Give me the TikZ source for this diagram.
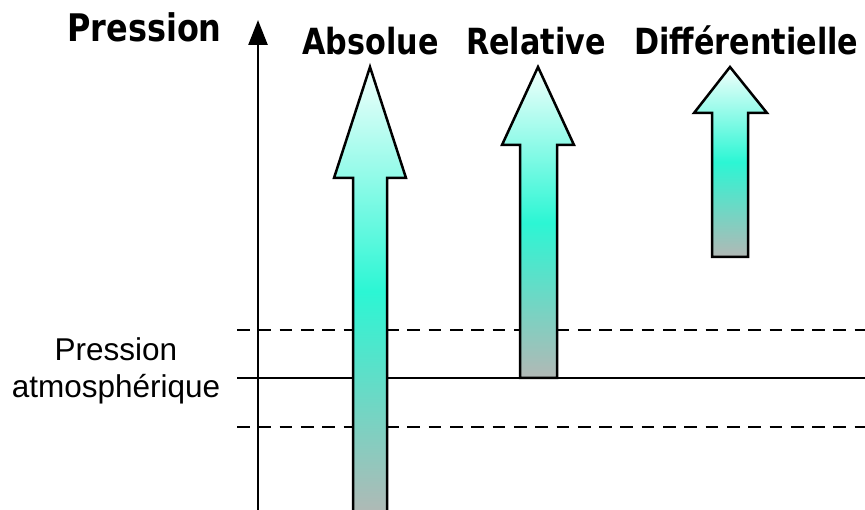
\documentclass[tikz,border=0pt]{standalone}
\usepackage{fontspec}
\setmainfont{Liberation Sans}
\newfontfamily\titlefont[FakeStretch=0.84]{DejaVu Sans}
\usepackage{tikz}
\usetikzlibrary{arrows.meta}
\definecolor{arrowtop}{HTML}{F2FFFC}
\definecolor{arrowmid}{HTML}{2CF6D4}
\definecolor{arrowbot}{HTML}{B2B8B5}
\tikzstyle{title} = [anchor=base, inner sep=0pt, font=\titlefont\bfseries\fontsize{36}{40}\selectfont]
\tikzstyle{blockarrow} = [draw, line width=2.5pt, line join=miter, top color=arrowtop, bottom color=arrowbot, middle color=arrowmid]
\tikzstyle{level} = [line width=2.5pt]
\tikzstyle{axis} = [line width=2.5pt, -{Triangle[length=25pt,width=19pt]}]

\begin{document}
\begin{tikzpicture}[x=1pt, y=-1pt]
\useasboundingbox (0,0) rectangle (865,510);
\clip (0,0) rectangle (865,510);

\node (ptitle) [title, font=\titlefont\bfseries\fontsize{38}{42}\selectfont] at (144.5,42) {Pression};
\node (abs) [title] at (370.5,55) {Absolue};
\node (rel) [title] at (536,55) {Relative};
\node (diff) [title] at (746.5,55) {Différentielle};
\node (patm) [align=center, inner sep=0pt, font=\fontsize{31.5}{37}\selectfont] at (116,370.5) {Pression\\atmosphérique};

% niveaux
\coordinate (atmL) at (237,378);
\coordinate (atmR) at (865,378);
\coordinate (hiL) at (237,330);
\coordinate (hiR) at (865,330);
\coordinate (loL) at (237,427);
\coordinate (loR) at (865,427);
\draw [level] (atmL) -- (atmR);
\draw [level, dash pattern=on 12.7pt off 8.6pt] (hiL) -- (hiR);
\draw [level, dash pattern=on 12.7pt off 8.6pt] (loL) -- (loR);

% axe
\coordinate (axbot) at (258,512);
\coordinate (axtop) at (258,20);
\draw [axis] (axbot) -- (axtop);

% fleches
\draw [blockarrow] (353,516) -- (353,178) -- (334,178) -- (370,67) -- (406,178) -- (387,178) -- (387,516) -- cycle;
\draw [blockarrow] (520,378) -- (520,145) -- (502,145) -- (538,67) -- (574,145) -- (557,145) -- (557,378) -- cycle;
\draw [blockarrow] (712,257) -- (712,113) -- (694,113) -- (730,67) -- (767,113) -- (748,113) -- (748,257) -- cycle;
\end{tikzpicture}
\end{document}
